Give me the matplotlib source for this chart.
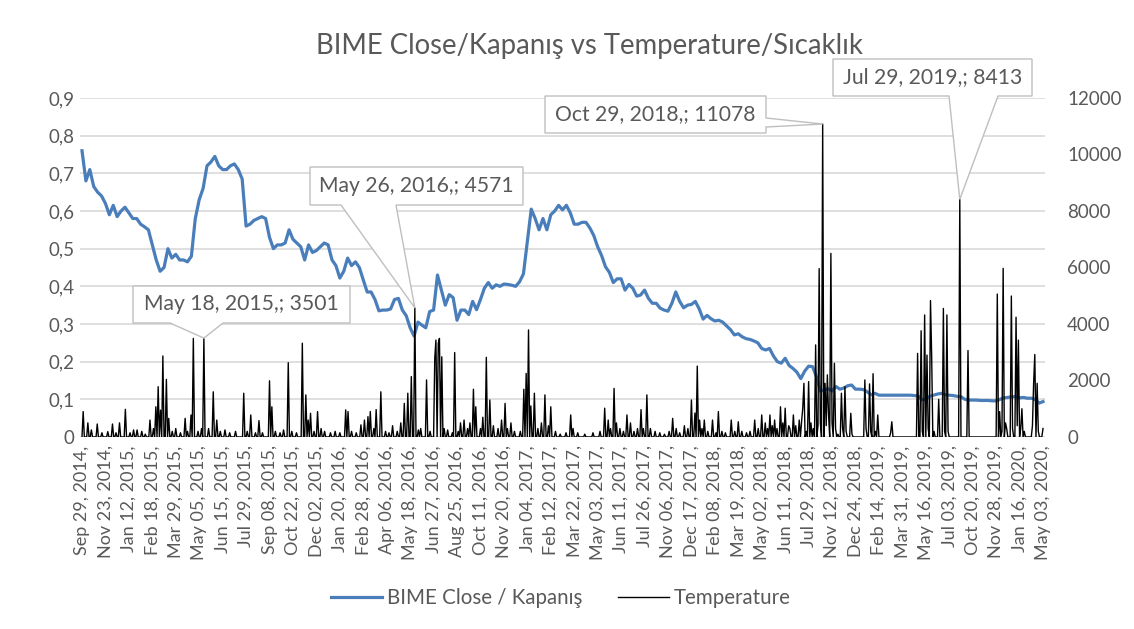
import numpy as np
import matplotlib
matplotlib.use('Agg')
import matplotlib.pyplot as plt
from matplotlib.patches import Polygon
from matplotlib.lines import Line2D

plt.rcParams['font.family'] = ['Lato', 'DejaVu Sans']

# x-axis labels (category axis, one label every 20 temperature rows / 6 close rows)
tick_dates = ['Sep 29, 2014', 'Nov 23, 2014', 'Jan 12, 2015', 'Feb 18, 2015', 'Mar 29, 2015',
              'May 05, 2015', 'Jun 15, 2015', 'Jul 29, 2015', 'Sep 08, 2015', 'Oct 22, 2015',
              'Dec 02, 2015', 'Jan 20, 2016', 'Feb 28, 2016', 'Apr 06, 2016', 'May 18, 2016',
              'Jun 27, 2016', 'Aug 25, 2016', 'Oct 11, 2016', 'Nov 20, 2016', 'Jan 04, 2017',
              'Feb 12, 2017', 'Mar 22, 2017', 'May 03, 2017', 'Jun 11, 2017', 'Jul 26, 2017',
              'Nov 06, 2017', 'Dec 17, 2017', 'Feb 08, 2018', 'Mar 19, 2018', 'May 02, 2018',
              'Jun 11, 2018', 'Jul 29, 2018', 'Nov 12, 2018', 'Dec 24, 2018', 'Feb 14, 2019',
              'Mar 31, 2019', 'May 16, 2019', 'Jul 03, 2019', 'Oct 20, 2019', 'Nov 28, 2019',
              'Jan 16, 2020', 'May 03, 2020']

# BIME close, 6 readings per label interval
close = [0.76, 0.68, 0.71, 0.665, 0.65, 0.64,
         0.62, 0.59, 0.615, 0.585, 0.60, 0.61,
         0.595, 0.58, 0.58, 0.565, 0.558, 0.55,
         0.51, 0.47, 0.44, 0.45, 0.50, 0.475,
         0.485, 0.47, 0.47, 0.465, 0.48, 0.58,
         0.63, 0.66, 0.72, 0.73, 0.745, 0.72,
         0.71, 0.71, 0.72, 0.725, 0.71, 0.685,
         0.56, 0.565, 0.575, 0.58, 0.585, 0.58,
         0.53, 0.50, 0.51, 0.51, 0.515, 0.55,
         0.525, 0.515, 0.505, 0.47, 0.51, 0.49,
         0.495, 0.505, 0.515, 0.51, 0.47, 0.455,
         0.422, 0.44, 0.475, 0.455, 0.465, 0.45,
         0.417, 0.385, 0.385, 0.365, 0.335, 0.337,
         0.337, 0.34, 0.365, 0.368, 0.337, 0.322,
         0.29, 0.268, 0.305, 0.297, 0.29, 0.333,
         0.337, 0.43, 0.39, 0.35, 0.378, 0.37,
         0.31, 0.337, 0.337, 0.325, 0.36, 0.338,
         0.365, 0.395, 0.41, 0.395, 0.404, 0.40,
         0.406, 0.405, 0.403, 0.40, 0.412, 0.433,
         0.52, 0.605, 0.58, 0.55, 0.58, 0.55,
         0.59, 0.60, 0.615, 0.603, 0.615, 0.595,
         0.565, 0.565, 0.57, 0.57, 0.555, 0.535,
         0.505, 0.482, 0.452, 0.437, 0.41, 0.42,
         0.42, 0.39, 0.405, 0.395, 0.374, 0.377,
         0.39, 0.368, 0.355, 0.355, 0.342, 0.337,
         0.334, 0.355, 0.385, 0.36, 0.343, 0.35,
         0.352, 0.36, 0.34, 0.313, 0.323, 0.314,
         0.308, 0.31, 0.305, 0.295, 0.285, 0.271,
         0.274, 0.266, 0.261, 0.259, 0.255, 0.25,
         0.235, 0.231, 0.235, 0.215, 0.20, 0.196,
         0.209, 0.19, 0.182, 0.172, 0.155, 0.175,
         0.188, 0.187, 0.16, 0.122, 0.125, 0.128,
         0.122, 0.134, 0.127, 0.13, 0.136, 0.138,
         0.127, 0.127, 0.126, 0.12, 0.112, 0.116,
         0.111, 0.111, 0.111, 0.111, 0.111, 0.111,
         0.111, 0.111, 0.111, 0.11, 0.109, 0.099,
         0.10, 0.108, 0.111, 0.114, 0.116, 0.112,
         0.111, 0.11, 0.108, 0.107, 0.10, 0.098,
         0.098, 0.098, 0.097, 0.097, 0.097, 0.096,
         0.096, 0.10, 0.104, 0.105, 0.107, 0.107,
         0.104, 0.105, 0.103, 0.103, 0.10, 0.09,
         0.094]
close_per_label = 6

# Temperature: 821 rows (20 per label interval); rows not listed are ~0
temp_rows = 821
temp_per_label = 20
temp_idx = [1, 5, 8, 13, 17, 22, 26, 29, 32, 37, 41, 44, 47, 51, 54, 58, 61, 63, 65, 67, 69, 72, 74,
            77, 80, 84, 88, 90, 93, 95, 99, 102, 104, 108, 112, 115, 118, 122, 126, 131, 138, 141,
            144, 148, 151, 154, 160, 162, 165, 169, 172, 176, 179, 183, 188, 191, 193, 195, 198,
            201, 204, 207, 212, 216, 220, 225, 227, 230, 234, 238, 241, 244, 246, 249, 251, 255,
            259, 262, 265, 269, 272, 275, 278, 281, 284, 287, 289, 294, 297, 301, 302, 304, 305,
            307, 309, 312, 316, 318, 321, 323, 326, 329, 331, 334, 336, 340, 342, 345, 348, 351,
            355, 358, 361, 363, 366, 369, 374, 377, 379, 381, 383, 386, 389, 392, 395, 398, 400,
            404, 408, 413, 417, 419, 423, 429, 436, 442, 446, 449, 451, 454, 456, 459, 462, 465,
            468, 471, 474, 477, 479, 482, 485, 489, 493, 497, 501, 504, 507, 510, 514, 517, 520,
            523, 525, 527, 529, 531, 534, 538, 541, 543, 546, 549, 554, 557, 560, 563, 567, 570,
            574, 577, 580, 583, 585, 587, 589, 591, 593, 596, 598, 600, 603, 604, 607, 609, 612,
            614, 615, 616, 618, 620, 622, 624, 626, 628, 629, 630, 632, 634, 635, 636, 637, 639,
            640, 642, 643, 645, 648, 649, 651, 652, 656, 657, 668, 669, 672, 673, 675, 677, 679,
            690, 691, 713, 716, 717, 719, 721, 722, 724, 725, 727, 731, 735, 736, 738, 739, 749,
            756, 781, 783, 785, 786, 788, 789, 793, 794, 797, 798, 799, 801, 802, 804, 811, 812,
            813, 815, 816, 820]
temp_val = [900, 500, 250, 460, 150, 190, 460, 150, 500, 980, 150, 250, 250, 200, 100, 600, 300, 1070,
            1780, 950, 2870, 2040, 660, 200, 300, 150, 660, 200, 780, 3490, 200, 300, 3501, 300,
            1600, 600, 200, 250, 150, 200, 1550, 200, 780, 150, 580, 150, 1990, 1070, 200, 150,
            250, 2630, 200, 150, 3320, 1490, 600, 840, 200, 900, 300, 200, 150, 200, 150, 960,
            900, 200, 150, 430, 600, 720, 900, 300, 970, 1600, 200, 150, 400, 200, 500, 1190,
            1550, 2140, 4571, 250, 300, 2020, 200, 2790, 3430, 3320, 3490, 2840, 300, 250, 150,
            2990, 200, 500, 600, 300, 500, 1690, 1070, 300, 700, 2820, 1310, 400, 300, 600, 1190,
            300, 500, 200, 200, 1690, 2250, 3790, 1100, 1550, 300, 500, 1490, 400, 1070, 200,
            100, 150, 780, 300, 150, 100, 150, 200, 1020, 600, 300, 1720, 500, 300, 200, 780, 500,
            200, 300, 970, 300, 1490, 300, 200, 150, 100, 200, 660, 300, 150, 400, 300, 1310,
            850, 2510, 600, 300, 600, 200, 600, 150, 900, 200, 150, 600, 200, 540, 200, 150, 200,
            600, 300, 780, 500, 300, 780, 400, 600, 300, 1070, 500, 1020, 400, 300, 780, 400,
            600, 540, 1020, 1900, 200, 1960, 500, 300, 3260, 400, 5960, 500, 11078, 1900, 400,
            2200, 800, 6500, 500, 2610, 300, 100, 1550, 300, 1780, 200, 840, 100, 2020, 300,
            1880, 200, 2240, 200, 780, 150, 540, 2960, 3760, 200, 4320, 2900, 300, 4830, 2870,
            200, 1330, 4550, 200, 4320, 200, 8413, 3060, 5060, 900, 200, 5970, 500, 300, 4990,
            300, 4240, 400, 3430, 300, 1000, 200, 400, 1900, 2920, 1900, 200, 300]

callout_dates = ['May 18, 2015', 'May 26, 2016', 'Oct 29, 2018', 'Jul 29, 2019']
callout_values = [3501, 4571, 11078, 8413]

W, H = 1134, 629
text_color = '#595959'
grid_color = '#D9D9D9'
blue = '#4A7EBB'

temp = np.zeros(temp_rows)
temp[temp_idx] = temp_val
x_temp = np.arange(temp_rows) / temp_per_label
x_close = np.arange(len(close)) / close_per_label

fig = plt.figure(figsize=(W / 100, H / 100), dpi=100)
ax = fig.add_axes([80 / W, 1 - 437 / H, 965 / W, 339 / H])
ax2 = ax.twinx()

ax.plot(x_close, close, color=blue, lw=2.3, solid_joinstyle='round')
ax2.plot(x_temp, temp, color='black', lw=1.0)

n = len(tick_dates) - 1
ax.set_xlim(-2 / 23.44, n + 2 / 23.44)
ax.set_ylim(0, 0.9)
ax2.set_ylim(0, 12000)

ax.set_yticks(np.arange(0, 0.91, 0.1))
ax.set_yticklabels(['0'] + [f'{v:.1f}'.replace('.', ',') for v in np.arange(0.1, 0.91, 0.1)])
ax2.set_yticks(np.arange(0, 12001, 2000))
ax2.set_yticklabels([str(v) for v in range(0, 12001, 2000)])
ax.set_xticks(np.arange(len(tick_dates)))
ax.set_xticklabels([d + ',' for d in tick_dates], rotation=90, va='top')

ax.grid(axis='y', color=grid_color, lw=1.2)
ax.set_axisbelow(True)
for a in (ax, ax2):
    for s in a.spines.values():
        s.set_visible(False)
ax.tick_params(axis='y', length=0, pad=4, labelsize=13.5, labelcolor=text_color)
ax.tick_params(axis='x', length=0, pad=6, labelsize=13, labelcolor=text_color)
ax2.tick_params(axis='y', length=0, pad=16, labelsize=13.5, labelcolor=text_color)

fig.text(589 / W, 1 - 46 / H, 'BIME Close/Kapanış vs Temperature/Sıcaklık',
         ha='center', va='center', fontsize=19.8, color=text_color)

handles = [Line2D([], [], color=blue, lw=2.3), Line2D([], [], color='black', lw=1.0)]
fig.legend(handles, ['BIME Close / Kapanış', 'Temperature'], loc='center',
           bbox_to_anchor=(561 / W, 1 - 598 / H), ncol=2, frameon=False, fontsize=14.8,
           handlelength=2.5, handletextpad=0.25, columnspacing=1.7, labelcolor=text_color)

# data callouts: box (left, top, right, bottom in px) and pointer base
boxes = [(133, 286, 350, 323), (310, 167, 523, 205), (545, 96, 766, 133), (833, 59, 1032, 96)]
pointers = [('bottom', 170, 223), ('bottom', 341, 396), ('right', 118, 127), ('bottom', 949, 998)]
to_fig = fig.transFigure.inverted()
for date, val, (l, t, r, b), (side, p1, p2) in zip(callout_dates, callout_values, boxes, pointers):
    i = temp_idx[temp_val.index(val)]
    apex = to_fig.transform(ax2.transData.transform((x_temp[i], val)))
    apex = (apex[0] * W, (1 - apex[1]) * H)
    if side == 'bottom':
        pts = [(l, t), (r, t), (r, b), (p2, b), apex, (p1, b), (l, b)]
    else:
        pts = [(l, t), (r, t), (r, p1), apex, (r, p2), (r, b), (l, b)]
    pts = [(x / W, 1 - y / H) for x, y in pts]
    fig.add_artist(Polygon(pts, closed=True, facecolor='white', edgecolor='#BFBFBF',
                           lw=1.0, transform=fig.transFigure, zorder=5))
    fig.text((l + r) / 2 / W, 1 - (t + b) / 2 / H, f'{date},; {val}', ha='center', va='center',
             fontsize=15.2, color=text_color, zorder=6)

fig.savefig('out.png', dpi=100)
